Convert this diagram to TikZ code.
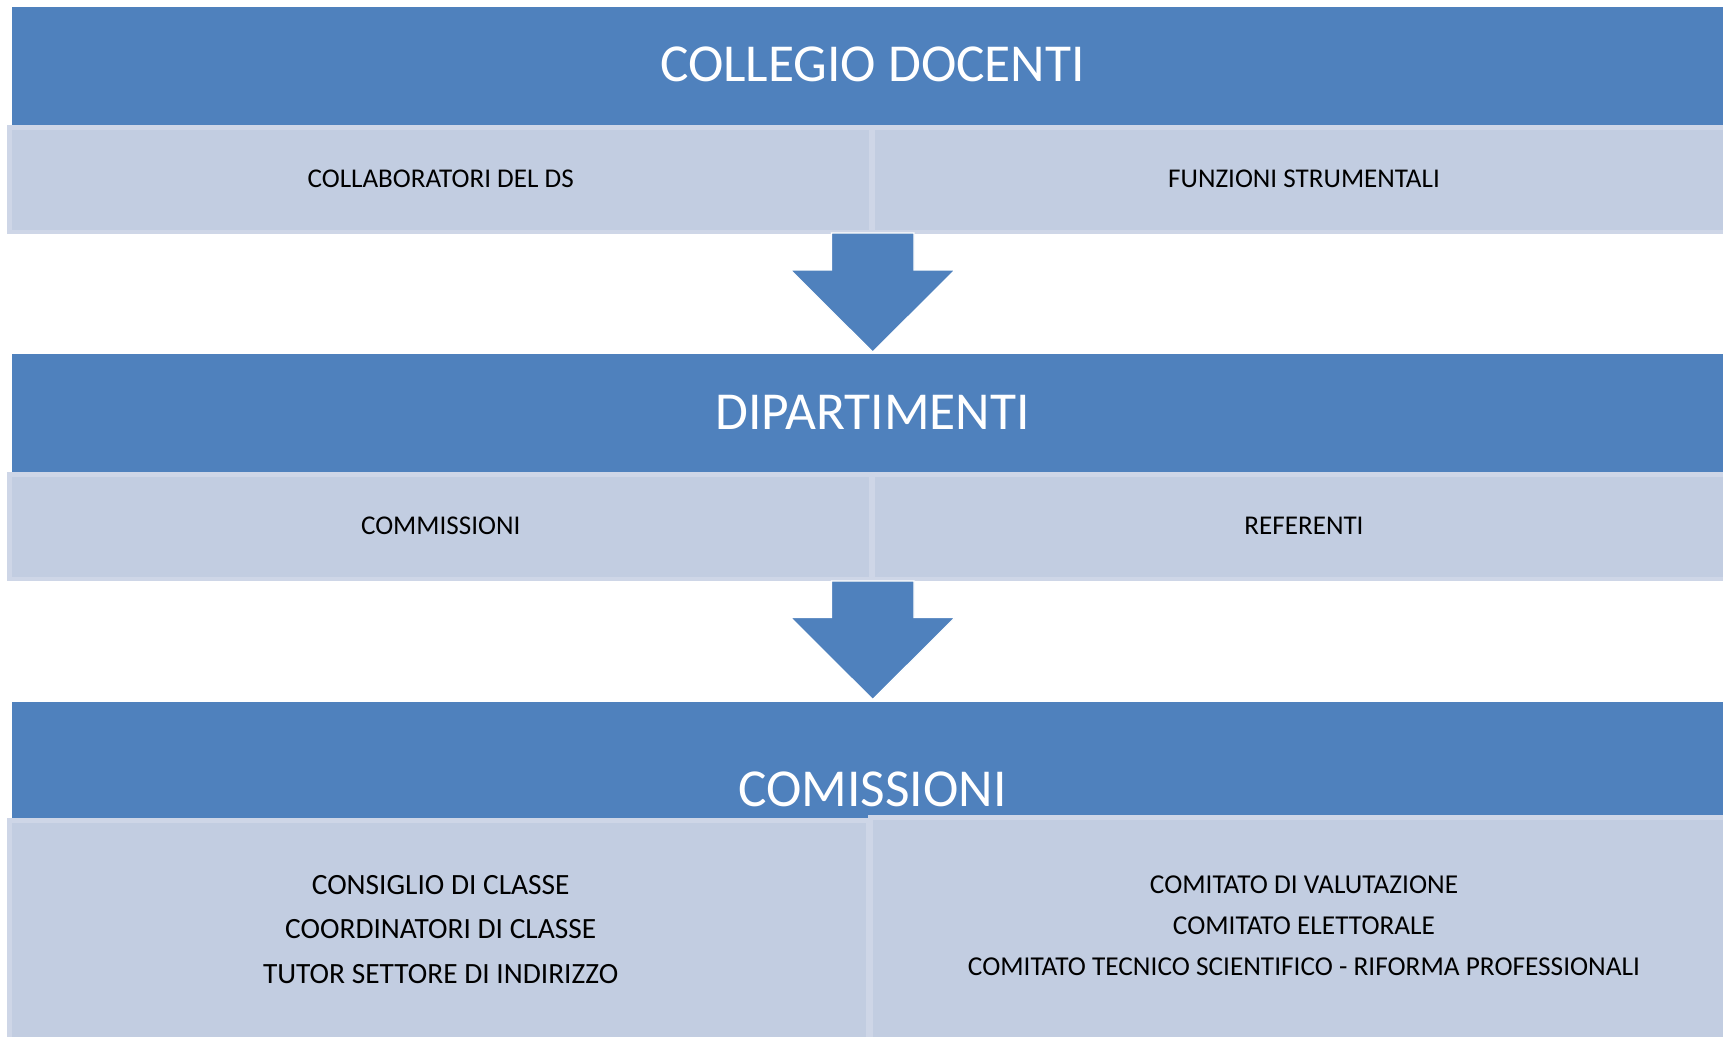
\documentclass[tikz,border=0pt]{standalone}
\usepackage{fontspec}
\setmainfont{Carlito}
\definecolor{dkblue}{HTML}{4F81BD}
\definecolor{ltfill}{HTML}{C2CDE1}
\definecolor{ltedge}{HTML}{CED6E7}
\begin{document}
\begin{tikzpicture}[x=1pt,y=-1pt,
  band/.style={fill=dkblue, draw=none, inner sep=0pt, outer sep=0pt, anchor=north west},
  cell/.style={fill=ltfill, draw=ltedge, line width=4.5pt, inner sep=0pt, outer sep=0pt, anchor=north west},
  big/.style={text=white, font=\fontsize{53.4}{60}\selectfont, anchor=base, inner sep=0pt},
  small/.style={text=black, font=\fontsize{27.1}{32}\selectfont, anchor=base, inner sep=0pt},
  smallL/.style={small, font=\fontsize{29.4}{34}\selectfont},
  smallR/.style={small, font=\fontsize{27.3}{32}\selectfont},
  down/.style={fill=dkblue, draw=white, line width=1.2pt, line join=miter}]
\useasboundingbox (0,0) rectangle (1723,1036);
\clip (0,0) rectangle (1723,1036);
% level 1
\node[band, minimum width=1760pt, minimum height=118pt] (b1) at (12,7) {};
\node[cell, minimum width=861.5pt, minimum height=104.5pt] (c1l) at (9.25,127.25) {};
\node[cell, minimum width=880pt, minimum height=104.5pt] (c1r) at (872.25,127.25) {};
% level 2
\node[band, minimum width=1760pt, minimum height=118.5pt] (b2) at (12,354) {};
\node[cell, minimum width=861.5pt, minimum height=104.5pt] (c2l) at (9.25,474.25) {};
\node[cell, minimum width=880pt, minimum height=104.5pt] (c2r) at (872.25,474.25) {};
% level 3
\node[band, minimum width=1760pt, minimum height=116pt] (b3) at (12,702) {};
\node[cell, minimum width=858.5pt, minimum height=260pt] (c3l) at (9.25,820.25) {};
\node[cell, minimum width=880pt, minimum height=260pt] (c3r) at (870.5,817.25) {};
% arrows
\draw[down] (831.5,233) -- (914,233) -- (914,270) -- (955,270) -- (872.7,352) -- (790.5,270) -- (831.5,270) -- cycle;
\draw[down] (831.5,581) -- (914,581) -- (914,617.5) -- (955,617.5) -- (872.7,699.5) -- (790.5,617.5) -- (831.5,617.5) -- cycle;
% titles
\node[big] (t1) at (872.5,81) {COLLEGIO DOCENTI};
\node[big] (t2) at (872.5,429) {DIPARTIMENTI};
\node[big] (t3) at (872.5,806) {COMISSIONI};
% row texts
\node[small] (s1l) at (440.7,187.5) {COLLABORATORI DEL DS};
\node[small] (s1r) at (1304,187.5) {FUNZIONI STRUMENTALI};
\node[small] (s2l) at (440.7,534.5) {COMMISSIONI};
\node[small] (s2r) at (1304,534.5) {REFERENTI};
\node[smallL] (s3la) at (440.7,894) {CONSIGLIO DI CLASSE};
\node[smallL] (s3lb) at (440.7,938.5) {COORDINATORI DI CLASSE};
\node[smallL] (s3lc) at (440.7,983) {TUTOR SETTORE DI INDIRIZZO};
\node[smallR] (s3ra) at (1304,893) {COMITATO DI VALUTAZIONE};
\node[smallR] (s3rb) at (1304,934) {COMITATO ELETTORALE};
\node[smallR] (s3rc) at (1304,975.5) {COMITATO TECNICO SCIENTIFICO - RIFORMA PROFESSIONALI};
\end{tikzpicture}
\end{document}
